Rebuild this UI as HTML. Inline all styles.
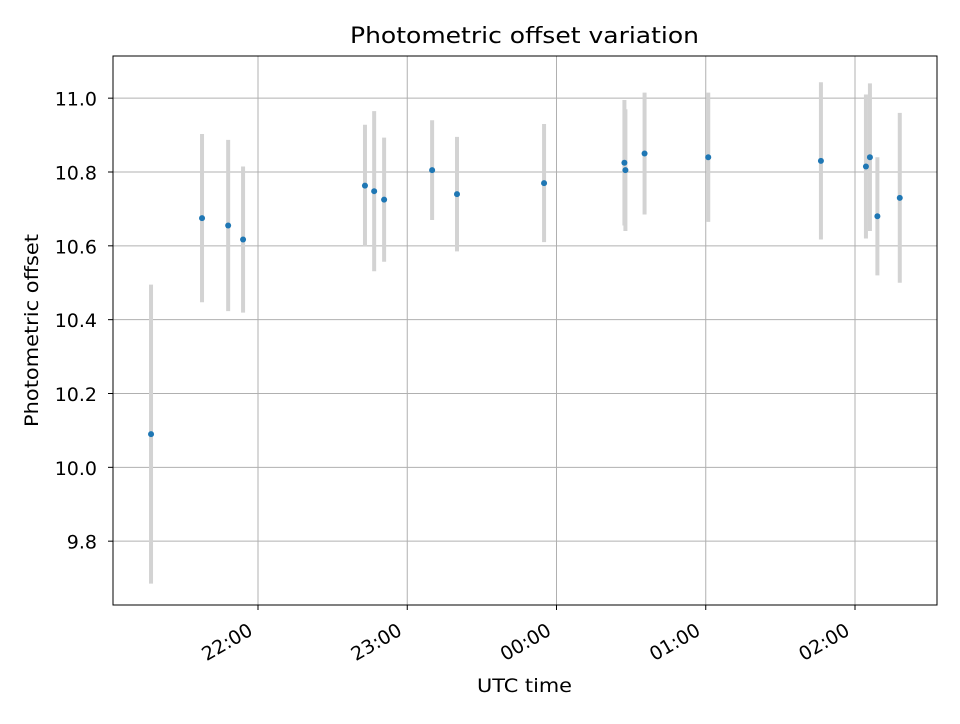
<!DOCTYPE html>
<html><head><meta charset="utf-8"><style>
body{margin:0;background:#fff;font-family:"DejaVu Sans","Liberation Sans",sans-serif}
svg text{font-family:"DejaVu Sans","Liberation Sans",sans-serif}
</style></head><body>
<svg id="chart" width="960" height="720" xmlns="http://www.w3.org/2000/svg">
<rect width="960" height="720" fill="#fff"/>
<text x="350" y="43" textLength="349" lengthAdjust="spacingAndGlyphs" style="font-size:22px">Photometric offset variation</text>
<text x="477" y="692" textLength="95" lengthAdjust="spacingAndGlyphs" style="font-size:19px">UTC time</text>
<text transform="translate(38,427) rotate(-90)" textLength="193" lengthAdjust="spacingAndGlyphs" style="font-size:19px">Photometric offset</text>
<g id="grid"></g>
<g id="marks"></g>
<rect x="113" y="56" width="824" height="549" fill="none" stroke="#000" stroke-width="1"/>
<g id="axes"></g>
</svg>
<script>
const times=["21:17","21:37.5","21:48","21:54","22:43","22:46.7","22:50.7","23:10","23:20","23:55","24:27.3","24:27.7","24:35.4","25:01","25:46.3","26:04.4","26:06","26:09","26:18"];
const offsets=[10.09,10.675,10.655,10.617,10.763,10.748,10.725,10.805,10.74,10.77,10.825,10.805,10.85,10.84,10.83,10.815,10.84,10.68,10.73];
const errors=[0.405,0.228,0.232,0.198,0.165,0.217,0.168,0.135,0.155,0.16,0.17,0.165,0.165,0.175,0.213,0.195,0.2,0.16,0.23];
const xTickHours=[22,23,24,25,26];
const xTickLabels=["22:00","23:00","00:00","01:00","02:00"];
const yTicks=[9.8,10.0,10.2,10.4,10.6,10.8,11.0];
const yTickLabels=["9.8","10.0","10.2","10.4","10.6","10.8","11.0"];

const NS="http://www.w3.org/2000/svg";
function toH(s){const p=s.split(":");return +p[0]+(+p[1])/60;}
function xs(h){return 258+(h-22)*149.25;}
function ys(v){return 467.33-(v-10)*369.17;}
function mk(tag,attrs,parent){const e=document.createElementNS(NS,tag);for(const k in attrs)e.setAttribute(k,attrs[k]);parent.appendChild(e);return e;}
const grid=document.getElementById('grid'),marks=document.getElementById('marks'),axes=document.getElementById('axes');
xTickHours.forEach((h,i)=>{
  const x=xs(h);
  const g=mk('line',{x1:x,x2:x,y1:56,y2:605,stroke:'#b0b0b0','stroke-width':1},grid);
  
  
  const t=mk('line',{x1:x,x2:x,y1:605,y2:610,stroke:'#000'},axes);
  
  
  const l=mk('text',{transform:`translate(${x-4},${634}) rotate(-30)`,'text-anchor':'end',style:'font-size:19px'},axes);
  l.textContent=xTickLabels[i];
  
  
});
yTicks.forEach((v,i)=>{
  const y=ys(v);
  const g=mk('line',{x1:113,x2:937,y1:y,y2:y,stroke:'#b0b0b0','stroke-width':1},grid);
  
  
  const t=mk('line',{x1:108,x2:113,y1:y,y2:y,stroke:'#000'},axes);
  
  
  const l=mk('text',{x:97,y:y+7.5,'text-anchor':'end',style:'font-size:19px'},axes);
  l.textContent=yTickLabels[i];
  
  
});
times.forEach((s,i)=>{
  const x=xs(toH(s));
  const b=mk('line',{x1:x,x2:x,y1:ys(offsets[i]+errors[i]),y2:ys(offsets[i]-errors[i]),stroke:'#d3d3d3','stroke-width':4},marks);
  
  
});
times.forEach((s,i)=>{
  const c=mk('circle',{cx:xs(toH(s)),cy:ys(offsets[i]),r:3,fill:'#1f77b4'},marks);
  
  
});
</script>
</body></html>
